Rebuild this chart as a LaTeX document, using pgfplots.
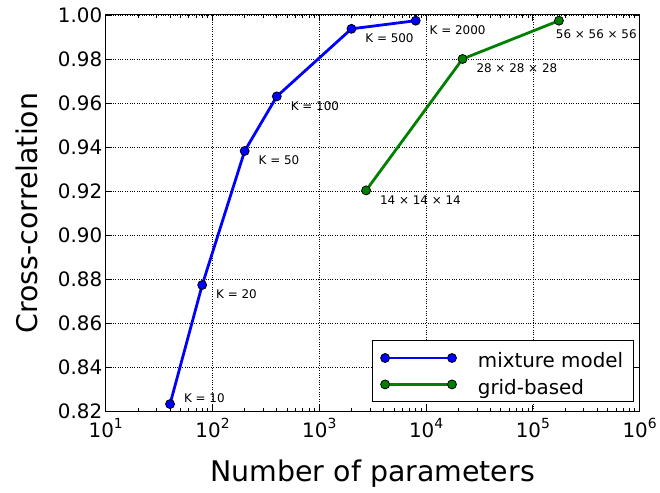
\documentclass[border=0pt]{standalone}
\usepackage{fontspec}
\setmainfont{DejaVu Sans}
\usepackage{pgfplots}
\pgfplotsset{compat=1.18}
\definecolor{mplblue}{rgb}{0,0,1}
\definecolor{mplgreen}{rgb}{0,0.5,0}
\newcommand{\pw}[1]{10\raisebox{0.42em}{\fontsize{14}{14}\selectfont #1}}
\begin{document}
\begin{tikzpicture}
\begin{axis}[
  scale only axis, width=535bp, height=397bp,
  xmode=log, xmin=10, xmax=1e6, ymin=0.82, ymax=1.0,
  xtick={10,100,1000,10000,100000,1000000},
  xticklabels={\pw{1},\pw{2},\pw{3},\pw{4},\pw{5},\pw{6}},
  ytick={0.82,0.84,0.86,0.88,0.90,0.92,0.94,0.96,0.98,1.00},
  yticklabel style={/pgf/number format/.cd, fixed, fixed zerofill, precision=2, assume math mode=true},
  ticklabel style={font=\fontsize{20}{24}\selectfont},
  xticklabel style={yshift=-4bp},
  grid=major, major grid style={black, dotted, line width=0.6pt},
  tick align=inside, tick pos=both,
  major tick length=6bp, minor tick length=3.5bp,
  every tick/.style={black, line width=0.8pt},
  axis line style={line width=1pt},
  xlabel={Number of parameters}, ylabel={Cross-correlation},
  label style={font=\fontsize{28.6}{34}\selectfont},
  xlabel style={at={(axis description cs:0.5,-0.1788)}, anchor=base},
  ylabel style={at={(axis description cs:-0.1271,0.5)}, anchor=base},
  clip=false,
  legend style={at={(rel axis cs:0.9888,0.0227)}, anchor=south east, draw=black, line width=1pt, fill=white,
    font=\fontsize{20}{24}\selectfont,
    cells={anchor=west, inner sep=0pt, text height=21bp, text depth=7bp},
    inner xsep=8bp, inner ysep=4bp, row sep=0bp,
    /tikz/every odd column/.append style={column sep=19.5bp}},
  legend image code/.code={\draw[mark repeat=2,mark phase=1,#1,line width=2.6bp] plot coordinates {(0bp,0bp) (33.5bp,0bp) (67bp,0bp)};},
]
\addplot[mplblue, line width=2.8bp, mark=*, mark size=4.5bp, mark options={draw=black, line width=0.8pt, fill=mplblue}]
  coordinates {(40,0.8232) (80,0.8773) (200,0.9382) (400,0.9630) (2000,0.9937) (8000,0.9974)};
\addlegendentry{mixture model}
\addplot[mplgreen, line width=2.8bp, mark=*, mark size=4.5bp, mark options={draw=black, line width=0.8pt, fill=mplgreen}]
  coordinates {(2744,0.9203) (21952,0.9800) (175616,0.9974)};
\addlegendentry{grid-based}
\begin{scope}[every node/.style={anchor=west, font=\fontsize{12}{14}\selectfont, xshift=13.8bp, yshift=-9.5bp, inner sep=0pt}]
\node[yshift=15.8bp] at (axis cs:40,0.8232) {K = 10};
\node at (axis cs:80,0.8773) {K = 20};
\node at (axis cs:200,0.9382) {K = 50};
\node at (axis cs:400,0.9630) {K = 100};
\node at (axis cs:2000,0.9937) {K = 500};
\node at (axis cs:8000,0.9974) {K = 2000};
\node at (axis cs:2744,0.9203) {14 × 14 × 14};
\node at (axis cs:21952,0.9800) {28 × 28 × 28};
\node[xshift=-17bp, yshift=-4.5bp] at (axis cs:175616,0.9974) {56 × 56 × 56};
\end{scope}
\path (current axis.south west) ++(-106bp,-82bp) coordinate (bbA);
\path (current axis.north east) ++(19bp,15bp) coordinate (bbB);
\path (bbA) rectangle (bbB);
\end{axis}
\end{tikzpicture}
\end{document}
